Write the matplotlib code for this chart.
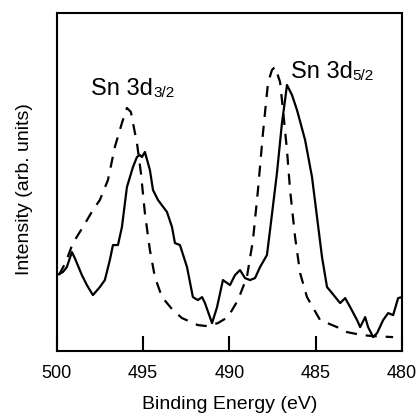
import matplotlib.pyplot as plt
from matplotlib.transforms import offset_copy

plt.rcParams['font.family'] = ['Liberation Sans', 'DejaVu Sans']

# annealed sample (solid)
e_solid = [500.0, 499.65, 499.42, 499.13, 498.96, 498.55, 498.26, 497.91, 497.51, 497.22,
           496.93, 496.75, 496.46, 496.23, 495.94, 495.59, 495.36, 495.19, 495.07, 494.90,
           494.61, 494.43, 494.14, 493.62, 493.33, 493.16, 492.87, 492.46, 492.12, 491.83,
           491.59, 491.42, 491.01, 490.72, 490.38, 489.97, 489.68, 489.39, 489.10, 488.81,
           488.52, 488.23, 487.83, 487.65, 487.25, 486.96, 486.78, 486.67, 486.38, 486.09,
           485.62, 485.22, 484.93, 484.64, 484.35, 484.06, 483.59, 483.30, 483.01, 482.61,
           482.43, 482.14, 481.97, 481.68, 481.45, 481.10, 480.81, 480.52, 480.23, 480.0]
i_solid = [76, 79, 84, 99, 93, 76, 66, 56, 64, 71,
           91, 106, 106, 124, 164, 184, 194, 196, 194, 199,
           181, 161, 151, 139, 124, 108, 106, 84, 54, 51,
           54, 48, 28, 44, 71, 66, 76, 81, 73, 71,
           73, 84, 96, 121, 178, 228, 251, 266, 256, 241,
           211, 174, 134, 94, 64, 58, 48, 53, 44, 31,
           24, 34, 24, 14, 18, 31, 38, 36, 53, 54]

# as-deposited sample (dashed)
e_dash = [499.88, 499.48, 499.07, 498.49, 497.91, 497.51, 497.04, 496.64, 496.23, 495.94,
          495.71, 495.59, 495.36, 495.13, 494.90, 494.61, 494.32, 493.91, 493.28, 492.75,
          491.83, 491.30, 490.67, 490.09, 489.51, 488.99, 488.64, 488.35, 488.06, 487.77,
          487.54, 487.36, 487.07, 486.90, 486.67, 486.49, 486.20, 485.91, 485.51, 484.75,
          483.77, 483.19, 482.32, 481.68, 480.52]
i_dash = [76, 89, 108, 124, 141, 151, 171, 204, 228, 243,
          239, 228, 208, 178, 138, 101, 74, 54, 41, 33,
          26, 25, 28, 34, 51, 74, 111, 161, 218, 268,
          281, 284, 269, 241, 201, 161, 114, 78, 54, 31,
          24, 19, 16, 15, 14]

peak_labels = [('Sn 3d', '3/2', 498.0, 256), ('Sn 3d', '5/2', 486.45, 273)]

fig = plt.figure(figsize=(4.18, 4.17), dpi=100)
ax = fig.add_axes([0.136, 0.158, 0.826, 0.811])

ax.plot(e_dash, i_dash, color='black', lw=1.6, linestyle=(0, (5, 4)))
ax.plot(e_solid, i_solid, color='black', lw=1.6)

ax.set_xlim(500, 480)
ax.set_ylim(0, 338)
ax.set_xticks([500, 495, 490, 485, 480])
ax.set_yticks([])
ax.tick_params(axis='x', direction='in', length=11, width=1.5, labelsize=13, pad=10)
for s in ax.spines.values():
    s.set_linewidth(1.5)

ax.set_xlabel('Binding Energy (eV)', fontsize=14, labelpad=10)
ax.set_ylabel('Intensity (arb. units)', fontsize=14)
ax.yaxis.set_label_coords(-0.068, 0.48)

fig.canvas.draw()
for main, sub, x, y in peak_labels:
    t = ax.text(x, y, main, fontsize=17, ha='left', va='baseline')
    w = t.get_window_extent(renderer=fig.canvas.get_renderer()).width
    tr = offset_copy(ax.transData, fig=fig, x=w * 72 / fig.dpi, y=-1.2, units='points')
    ax.text(x, y, sub, fontsize=11, ha='left', va='baseline', transform=tr)

fig.savefig('out.png', dpi=100)
